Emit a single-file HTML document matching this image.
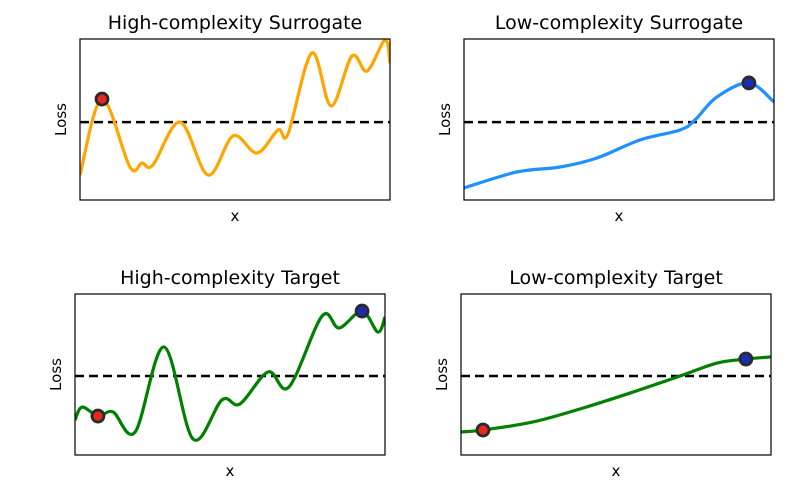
<!DOCTYPE html>
<html><head><meta charset="utf-8"><style>body{margin:0;background:#fff}svg{display:block;font-family:"DejaVu Sans","Liberation Sans",sans-serif}</style></head>
<body>
<svg id="fig" width="788" height="489" viewBox="0 0 788 489"></svg>
<script>
const p1x=[0,0.71,1.61,2.0,2.35,3.23,4.13,4.94,5.71,6.39,6.71,7.48,8.10,8.77,9.26,9.84,10];
const p1y=[0.155,0.627,0.205,0.23,0.217,0.484,0.155,0.398,0.292,0.435,0.41,0.913,0.584,0.894,0.801,0.994,0.851];
const p2x=[0,1.71,3.1,4.29,5.68,6.97,7.45,8.16,9.19,10];
const p2y=[0.075,0.174,0.205,0.261,0.373,0.435,0.497,0.64,0.727,0.609];
const p3x=[0,0.23,0.74,1.23,1.94,2.87,3.81,4.74,5.32,6.23,6.9,7.97,8.52,9.26,9.77,10];
const p3y=[0.217,0.298,0.242,0.267,0.143,0.671,0.099,0.342,0.317,0.516,0.422,0.863,0.789,0.894,0.764,0.857];
const p4x=[0,0.71,2.32,3.94,5.55,7.16,8.26,9.19,10];
const p4y=[0.143,0.155,0.205,0.292,0.391,0.497,0.571,0.596,0.609];
const thresholds=[0.484,0.484,0.491,0.491];
const titles=["High-complexity Surrogate","Low-complexity Surrogate","High-complexity Target","Low-complexity Target"];
const markers=[[[0.71,0.627,'#e8281e']],[[9.19,0.727,'#1c2ab8']],[[0.74,0.242,'#e8281e'],[9.26,0.894,'#1c2ab8']],[[0.71,0.155,'#e8281e'],[9.19,0.596,'#1c2ab8']]];
const colors=['#ffa500','#1e90ff','#008000','#008000'];
const boxes=[[80,39,310,161],[464,39,310,161],[75,294,310,161],[461,294,310,161]];
const XS=[p1x,p2x,p3x,p4x],YS=[p1y,p2y,p3y,p4y];
const NS='http://www.w3.org/2000/svg';const svg=document.getElementById('fig');
function mk(t,a,par){const e=document.createElementNS(NS,t);for(const k in a)e.setAttribute(k,a[k]);(par||svg).appendChild(e);return e;}
function path(pts){let d='M'+pts[0][0]+','+pts[0][1];for(let i=0;i<pts.length-1;i++){const p0=pts[Math.max(0,i-1)],p1=pts[i],p2=pts[i+1],p3=pts[Math.min(pts.length-1,i+2)];
d+=' C'+(p1[0]+(p2[0]-p0[0])/6)+','+(p1[1]+(p2[1]-p0[1])/6)+' '+(p2[0]-(p3[0]-p1[0])/6)+','+(p2[1]-(p3[1]-p1[1])/6)+' '+p2[0]+','+p2[1];}return d;}
const names=['high-surrogate','low-surrogate','high-target','low-target'];
for(let i=0;i<4;i++){
 const [bx,by,bw,bh]=boxes[i];
 const sx=v=>bx+v/10*bw, sy=v=>by+bh-v*bh;
 const g=mk('g',{});
 
 
 const cid='c'+i;const cp=mk('clipPath',{id:cid},g);mk('rect',{x:bx,y:by,width:bw,height:bh},cp);
 const ln=mk('line',{x1:bx,x2:bx+bw,y1:sy(thresholds[i]),y2:sy(thresholds[i]),stroke:'#000','stroke-width':2.5,'stroke-dasharray':'9,5'},g);
 
 
 const pts=XS[i].map((x,j)=>[sx(x),sy(YS[i][j])]);
 const cv=mk('path',{d:path(pts),fill:'none',stroke:colors[i],'stroke-width':3.2,'clip-path':'url(#'+cid+')'},g);
 
 
 markers[i].forEach(m=>{const c=mk('circle',{cx:sx(m[0]),cy:sy(m[1]),r:6,fill:m[2],stroke:'#2a2a2a','stroke-width':2.8},g);
  
  });
 const fr=mk('rect',{x:bx,y:by,width:bw,height:bh,fill:'none',stroke:'#000','stroke-width':1.2},g);
 
 
 const t=mk('text',{x:bx+bw/2,y:by-10,'text-anchor':'middle','font-size':19},g);t.textContent=titles[i];
 
 
 const xl=mk('text',{x:bx+bw/2,y:by+bh+21,'text-anchor':'middle','font-size':15},g);xl.textContent='x';
 
 
 const yx=bx-14,yy=by+bh/2;
 const yl=mk('text',{x:yx,y:yy,'text-anchor':'middle','font-size':15,transform:'rotate(-90 '+yx+' '+yy+')'},g);yl.textContent='Loss';
 
 
}
</script>
</body></html>
